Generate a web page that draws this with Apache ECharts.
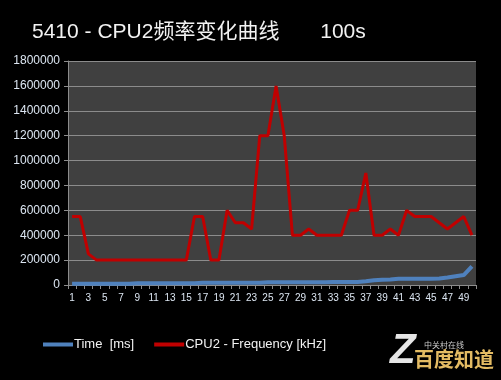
<!DOCTYPE html>
<html>
<head>
<meta charset="utf-8">
<script src="https://cdn.jsdelivr.net/npm/echarts@6/dist/echarts.min.js"></script>
<style>html,body{margin:0;padding:0;background:#000;}#c{width:501px;height:380px;}</style>
</head>
<body>
<div id="c"></div>
<script>
const categories = Array.from({length: 50}, (_, i) => String(i + 1));
const yTicks = [0, 200000, 400000, 600000, 800000, 1000000, 1200000, 1400000, 1600000, 1800000];
const timeMs = [10000,10000,10000,10000,10000,10000,10000,10000,15000,15000,
                15000,15000,15000,15000,15000,15000,18000,18000,18000,18000,
                18000,18000,18000,18000,22000,22000,22000,22000,22000,22000,
                22000,22000,25000,25000,25000,25000,30000,38000,42000,45000,
                50000,50000,50000,50000,50000,52000,60000,70000,80000,150000];
const cpu2Freq = [550000,550000,250000,200000,200000,200000,200000,200000,200000,200000,
                  200000,200000,200000,200000,200000,550000,550000,200000,200000,600000,
                  500000,500000,450000,1200000,1200000,1600000,1200000,400000,400000,450000,
                  400000,400000,400000,400000,600000,600000,900000,400000,400000,450000,
                  400000,600000,550000,550000,550000,500000,450000,500000,550000,400000];
const seriesNames = ['Time  [ms]', 'CPU2 - Frequency [kHz]'];

const chart = echarts.init(document.getElementById('c'), null, {renderer: 'canvas'});
const font = "'Liberation Sans', 'Noto Sans CJK SC', sans-serif";
chart.setOption({
  backgroundColor: '#000000',
  animation: false,
  title: {
    text: '5410 - CPU2频率变化曲线       100s',
    left: 27, top: 17,
    textStyle: {color: '#f2f2f2', fontSize: 21, fontWeight: 'normal', fontFamily: font}
  },
  legend: {
    left: 38, top: 333,
    itemWidth: 30, itemHeight: 4, itemGap: 20,
    textStyle: {color: '#f2f2f2', fontSize: 13, fontFamily: font, padding: [0,0,0,-4]},
    data: [
      {name: seriesNames[0], icon: 'rect'},
      {name: seriesNames[1], icon: 'rect', itemStyle: {color: '#c00000'}}
    ]
  },
  grid: {left: 68, right: 25, top: 61, bottom: 95, show: true, backgroundColor: '#404040', borderWidth: 0},
  xAxis: {
    type: 'category',
    data: categories,
    boundaryGap: true,
    axisLine: {lineStyle: {color: '#8c8c8c', width: 1}},
    axisTick: {show: true, interval: 0, length: 4, lineStyle: {color: '#8c8c8c'}},
    axisLabel: {interval: 1, color: '#dce6f2', fontSize: 10, fontFamily: font, margin: 8}
  },
  yAxis: {
    type: 'value',
    min: yTicks[0], max: yTicks[yTicks.length - 1], interval: yTicks[1] - yTicks[0],
    axisLine: {show: true, lineStyle: {color: '#8c8c8c', width: 1}},
    axisTick: {show: true, length: 4, lineStyle: {color: '#8c8c8c'}},
    splitLine: {lineStyle: {color: '#8c8c8c', width: 1}},
    axisLabel: {color: '#dce6f2', fontSize: 12, fontFamily: font, margin: 8,
                formatter: v => String(v)}
  },
  series: [
    {name: seriesNames[0], type: 'line', data: timeMs, symbol: 'none',
     lineStyle: {color: '#4f81bd', width: 4}, itemStyle: {color: '#4f81bd'}, z: 2},
    {name: seriesNames[1], type: 'line', data: cpu2Freq, symbol: 'none',
     lineStyle: {color: '#c00000', width: 3}, itemStyle: {color: '#c00000'}, z: 3}
  ],
  graphic: [
    {type: 'text', left: 390, top: 330, style: {text: 'Z', fill: '#e6e6e6', font: "italic bold 42px 'Liberation Sans'"}},
    {type: 'text', left: 424, top: 341, style: {text: '中关村在线', fill: '#cccccc', font: "8px 'Noto Sans CJK SC'"}},
    {type: 'text', left: 414, top: 349, style: {text: '百度知道', fill: '#e3bb63', font: "bold 20px 'Noto Sans CJK SC'"}}
  ]
});
</script>
</body>
</html>
